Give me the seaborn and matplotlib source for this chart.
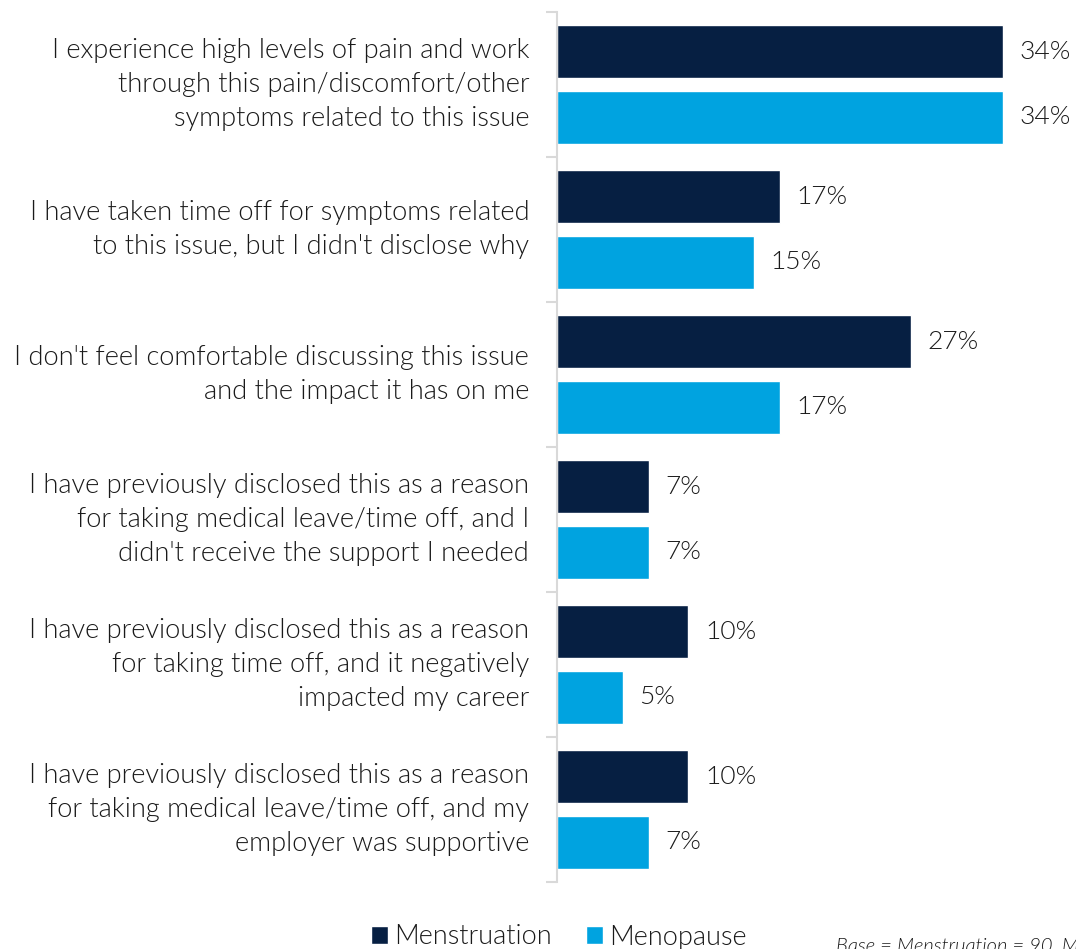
import matplotlib
matplotlib.use("Agg")
import matplotlib.pyplot as plt
import seaborn as sns
import pandas as pd
from matplotlib.patches import Patch

statements = [
    "I experience high levels of pain and work\nthrough this pain/discomfort/other\nsymptoms related to this issue",
    "I have taken time off for symptoms related\nto this issue, but I didn't disclose why",
    "I don't feel comfortable discussing this issue\nand the impact it has on me",
    "I have previously disclosed this as a reason\nfor taking medical leave/time off, and I\ndidn't receive the support I needed",
    "I have previously disclosed this as a reason\nfor taking time off, and it negatively\nimpacted my career",
    "I have previously disclosed this as a reason\nfor taking medical leave/time off, and my\nemployer was supportive",
]
menstruation = [34, 17, 27, 7, 10, 10]
menopause = [34, 15, 17, 7, 5, 7]
groups = ["Menstruation", "Menopause"]
colors = ["#061f42", "#00a3e0"]
footnote = "Base = Menstruation = 90, Menopause"

df = pd.DataFrame({
    "statement": statements * 2,
    "value": menstruation + menopause,
    "group": [groups[0]] * len(statements) + [groups[1]] * len(statements),
})

sns.set_theme(style="white")
plt.rcParams["font.family"] = ["Lato", "DejaVu Sans"]
plt.rcParams["font.weight"] = 300
text_color = "#1a1a1a"

fig = plt.figure(figsize=(10.76, 9.49), dpi=100)
W, H = 1076, 949
ax = fig.add_axes([557 / W, 67 / H, (W - 557) / W, 870 / H])

sns.barplot(data=df, y="statement", x="value", hue="group", orient="h",
            palette=colors, hue_order=groups, order=statements,
            width=0.91, gap=0.21, ax=ax, legend=False, saturation=1)

ax.set_xlim(0, (W - 557) / 13.12)
ax.set_ylim(len(statements) - 0.5, -0.5)
ax.set_xlabel("")
ax.set_ylabel("")
ax.set_xticks([])

for c in ax.containers:
    ax.bar_label(c, fmt="%d%%", padding=12, fontsize=19, color=text_color)

for s in ["top", "right", "bottom"]:
    ax.spines[s].set_visible(False)
ax.spines["left"].set_color("#d9d9d9")
ax.spines["left"].set_linewidth(1.5)

ax.tick_params(axis="y", which="major", length=0, pad=20, labelsize=19.6,
               labelcolor=text_color)
ax.set_yticks([i - 0.5 for i in range(len(statements) + 1)], minor=True)
ax.tick_params(axis="y", which="minor", length=8, width=1.5, color="#d9d9d9",
               left=True)
for t in ax.get_yticklabels():
    t.set_horizontalalignment("right")
    t.set_verticalalignment("center")
    t.set_multialignment("right")
    t.set_linespacing(1.45)

handles = [Patch(facecolor=c, label=g) for c, g in zip(colors, groups)]
fig.legend(handles=handles, loc="center", bbox_to_anchor=(559 / W, 1 - 937 / H),
           ncol=2, frameon=False, fontsize=19.5, handlelength=0.62,
           handleheight=0.62, handletextpad=0.25, columnspacing=1.25,
           labelcolor=text_color)

fig.text(836 / W, 1 - 952 / H, footnote, fontsize=14.5, style="italic",
         color=text_color, ha="left", va="baseline")

fig.savefig("out.png", dpi=100)
